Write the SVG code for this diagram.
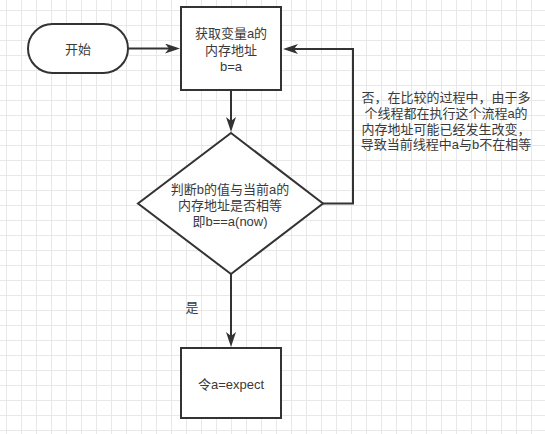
<svg xmlns="http://www.w3.org/2000/svg" width="545" height="434" viewBox="0 0 545 434">
<defs>
<pattern id="grid" patternUnits="userSpaceOnUse" x="6" y="10" width="15" height="15">
<path d="M0.5,0 V15 M0,0.5 H15" fill="none" stroke="#e8e8e8" stroke-width="1"/>
</pattern>
<marker id="arr" markerUnits="userSpaceOnUse" viewBox="0 0 15 10" markerWidth="15" markerHeight="10" refX="11" refY="5" orient="auto">
<path d="M0,0 L15,5 L0,10 L4,5 Z" fill="#333333"/>
</marker>
<style>
.shape{fill:#ffffff;stroke:#333333;stroke-width:2}
.edge{fill:none;stroke:#333333;stroke-width:2;marker-end:url(#arr)}
text{font-family:"Liberation Sans","Noto Sans CJK SC",sans-serif;font-size:13px;fill:#3a3a3a;text-anchor:middle}
</style>
</defs>
<rect x="0" y="0" width="545" height="434" fill="#ffffff"/>
<rect x="0" y="0" width="545" height="434" fill="url(#grid)"/>
<g id="connectors">
<path class="edge" d="M128,48.5 L176,48.5"/>
<path class="edge" d="M231,90 L231,128"/>
<path class="edge" d="M323,203.5 L353,203.5 L353,49 L287,49"/>
<path class="edge" d="M231,274 L231,343"/>
</g>
<g id="start">
<rect class="shape" x="28" y="24" width="100" height="49" rx="24.5" ry="24.5"/>
<text x="78" y="54">开始</text>
</g>
<g id="getAddr">
<rect class="shape" x="181" y="7" width="100" height="83"/>
<text x="231" y="38">获取变量a的<tspan x="231" dy="16.5">内存地址</tspan><tspan x="231" dy="16">b=a</tspan></text>
</g>
<g id="compare">
<polygon class="shape" points="231,133 323,203.5 231,274 138,203.5"/>
<text x="230" y="194">判断b的值与当前a的<tspan x="230" dy="16">内存地址是否相等</tspan><tspan x="230" dy="15.5">即b==a(now)</tspan></text>
</g>
<g id="assign">
<rect class="shape" x="181" y="348" width="100" height="70"/>
<text x="231" y="389">令a=expect</text>
</g>
<g id="labels">
<text x="446" y="102">否，在比较的过程中，由于多<tspan x="446" dy="16">个线程都在执行这个流程a的</tspan><tspan x="446" dy="15.5">内存地址可能已经发生改变，</tspan><tspan x="446" dy="15.5">导致当前线程中a与b不在相等</tspan></text>
<text x="192" y="312">是</text>
</g>
</svg>
